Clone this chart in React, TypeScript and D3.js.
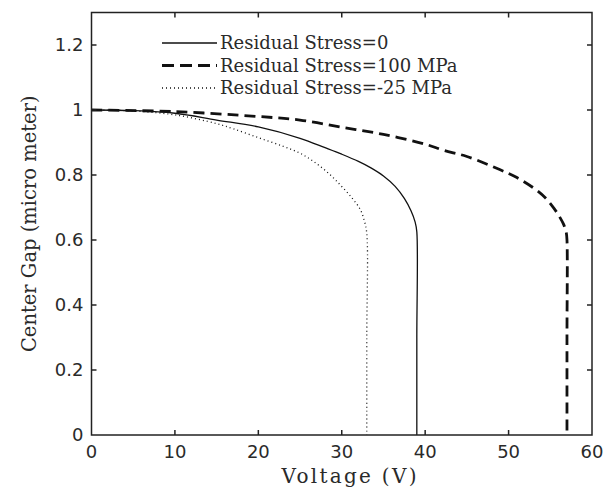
import React, { useEffect, useRef } from 'react';
import * as d3 from 'd3';

// voltage (V) / center gap (micro meter)
const voltZero = [0, 5, 10, 15, 20, 25, 28, 30, 32, 33.5, 35, 36.4, 37.5, 38.3, 38.8, 39, 39, 39];
const gapZero = [1, 0.998, 0.99, 0.969, 0.948, 0.913, 0.884, 0.864, 0.842, 0.822, 0.797, 0.765, 0.728, 0.69, 0.655, 0.625, 0.3, 0];

const volt100 = [0, 10, 20, 25, 30, 35, 40, 42.2, 45, 49, 51, 53, 54.4, 55.4, 56.1, 56.6, 56.9, 57, 57, 57];
const gap100 = [1, 0.995, 0.98, 0.969, 0.947, 0.925, 0.895, 0.876, 0.857, 0.816, 0.792, 0.76, 0.73, 0.699, 0.672, 0.648, 0.625, 0.6, 0.3, 0];

const voltNeg25 = [0, 5, 10, 15, 17, 20, 23, 25, 26.6, 28.3, 29.8, 31.2, 32.2, 32.7, 33, 33, 33];
const gapNeg25 = [1, 0.997, 0.985, 0.958, 0.942, 0.915, 0.888, 0.867, 0.842, 0.808, 0.77, 0.73, 0.695, 0.66, 0.62, 0.3, 0];

const legendLabels = ['Residual Stress=0', 'Residual Stress=100 MPa', 'Residual Stress=-25 MPa'];
const xTicks = [0, 10, 20, 30, 40, 50, 60];
const yTicks = [0, 0.2, 0.4, 0.6, 0.8, 1, 1.2];

const App = () => {
	const container = useRef(null);

	useEffect(() => {
		const width = 611;
		const height = 489;
		const margins = { l: 91.5, r: 19, t: 12.5, b: 54 };
		const tickfont = '"DejaVu Sans", sans-serif';
		const labelfont = '"DejaVu Serif", serif';
		const textcolor = '#2a2a2a';

		const svg = d3
			.select(container.current)
			.selectAll('svg')
			.data([0])
			.join('svg')
			.attr('width', width)
			.attr('height', height)
			.style('display', 'block')
			.style('background', '#fff');
		svg.selectAll('*').remove();

		const x = d3.scaleLinear().domain([0, 60]).range([margins.l, width - margins.r]);
		const y = d3.scaleLinear().domain([0, 1.3]).range([height - margins.b, margins.t]);

		const series = [
			{ v: voltZero, g: gapZero, dash: null, sw: 1.3 },
			{ v: volt100, g: gap100, dash: '11,6', sw: 2.8 },
			{ v: voltNeg25, g: gapNeg25, dash: '1,3', sw: 1.3 },
		];

		const line = d3
			.line<[number, number]>()
			.curve(d3.curveCatmullRom.alpha(0.5))
			.x(d => x(d[0]))
			.y(d => y(d[1]));

		svg.selectAll('.curve')
			.data(series)
			.join('path')
			.attr('class', 'curve')
			.attr('fill', 'none')
			.attr('stroke', '#111')
			.attr('stroke-width', d => d.sw)
			.attr('stroke-dasharray', d => d.dash)
			.attr('d', d => line(d.v.map((v, i) => [v, d.g[i]] as [number, number])));

		// box
		svg.append('rect')
			.attr('x', x(0))
			.attr('y', y(1.3))
			.attr('width', x(60) - x(0))
			.attr('height', y(0) - y(1.3))
			.attr('fill', 'none')
			.attr('stroke', '#222')
			.attr('stroke-width', 1.5);

		const ticklen = 5;
		const tickg = svg.append('g').attr('stroke', '#222').attr('stroke-width', 1.5);
		xTicks.slice(1, -1).forEach(t => {
			tickg.append('line').attr('x1', x(t)).attr('x2', x(t)).attr('y1', y(0)).attr('y2', y(0) - ticklen);
			tickg.append('line').attr('x1', x(t)).attr('x2', x(t)).attr('y1', y(1.3)).attr('y2', y(1.3) + ticklen);
		});
		yTicks.slice(1).forEach(t => {
			tickg.append('line').attr('x1', x(0)).attr('x2', x(0) + ticklen).attr('y1', y(t)).attr('y2', y(t));
			tickg.append('line').attr('x1', x(60)).attr('x2', x(60) - ticklen).attr('y1', y(t)).attr('y2', y(t));
		});

		svg.selectAll('.xtick')
			.data(xTicks)
			.join('text')
			.attr('class', 'xtick')
			.attr('x', d => x(d))
			.attr('y', y(0) + 23)
			.attr('text-anchor', 'middle')
			.attr('font-family', tickfont)
			.attr('font-size', 18)
			.attr('fill', textcolor)
			.text(d => d);

		svg.selectAll('.ytick')
			.data(yTicks)
			.join('text')
			.attr('class', 'ytick')
			.attr('x', x(0) - 8)
			.attr('y', d => y(d))
			.attr('dy', '0.35em')
			.attr('text-anchor', 'end')
			.attr('font-family', tickfont)
			.attr('font-size', 18)
			.attr('fill', textcolor)
			.text(d => (d === 0 || d === 1 ? d : d.toFixed(1)));

		svg.append('text')
			.attr('x', 281.5)
			.attr('y', 483)
			.attr('textLength', 135)
			.attr('lengthAdjust', 'spacing')
			.attr('font-family', labelfont)
			.attr('font-size', 20)
			.attr('fill', textcolor)
			.text('Voltage (V)');

		svg.append('text')
			.attr('transform', `translate(36, ${(y(0) + y(1.3)) / 2}) rotate(-90)`)
			.attr('text-anchor', 'middle')
			.attr('font-family', labelfont)
			.attr('font-size', 19.5)
			.attr('fill', textcolor)
			.text('Center Gap (micro meter)');

		// legend
		const legendy = [43, 65.5, 88];
		const legg = svg.append('g');
		series.forEach((s, i) => {
			legg.append('line')
				.attr('x1', 162)
				.attr('x2', 217)
				.attr('y1', legendy[i])
				.attr('y2', legendy[i])
				.attr('stroke', '#111')
				.attr('stroke-width', s.sw)
				.attr('stroke-dasharray', s.dash ? (i === 1 ? '12,6' : s.dash) : null);
			legg.append('text')
				.attr('x', 220)
				.attr('y', legendy[i])
				.attr('dy', '0.35em')
				.attr('font-family', labelfont)
				.attr('font-size', 18)
				.attr('fill', textcolor)
				.text(legendLabels[i]);
		});
	}, []);

	return <div ref={container} style={{ position: 'absolute', left: 0, top: 0 }}></div>;
};

export default App;
